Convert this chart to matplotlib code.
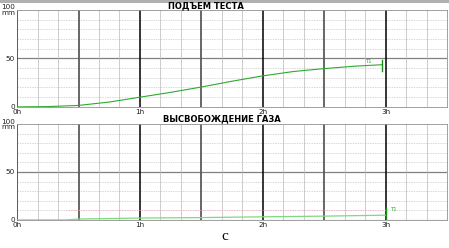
import matplotlib
matplotlib.use("Agg")
import matplotlib.pyplot as plt
import numpy as np

# data
hours = [0.0, 0.25, 0.5, 0.75, 1.0, 1.25, 1.5, 1.75, 2.0, 2.25, 2.5, 2.75, 2.97]
rise = [0.0, 0.3, 1.5, 5.0, 10.0, 15.0, 20.5, 26.5, 32.0, 36.5, 39.5, 42.0, 43.5]
gas_hours = [0.0, 0.4, 0.5, 1.0, 1.5, 2.0, 2.5, 3.0]
gas = [0.0, 0.0, 1.0, 2.0, 2.5, 3.3, 4.0, 5.0]
titles = ["ПОДЪЕМ ТЕСТА", "ВЫСВОБОЖДЕНИЕ ГАЗА"]
xtick_labels = ["0h", "1h", "2h", "3h"]
ytick_labels = ["0", "50", "100\nmm"]
marker_label = "T1"

fig = plt.figure(figsize=(4.49, 2.48), dpi=100)
fig.patch.set_facecolor("white")
fig.add_artist(plt.Rectangle((0, 0.988), 1, 0.012, transform=fig.transFigure,
                             color="#b0b0b0", lw=0))

ax1 = fig.add_axes([0.038, 0.569, 0.958, 0.391])
ax2 = fig.add_axes([0.038, 0.113, 0.958, 0.387])

def style(ax):
    ax.set_xlim(0, 3.5)
    ax.set_ylim(0, 100)
    # horizontal grid
    for v in range(10, 100, 10):
        if v == 50:
            ax.axhline(v, color="#808080", lw=0.9, zorder=1)
        else:
            ax.axhline(v, color="#c8c8c8", lw=0.5, ls=(0, (2, 1.5)), zorder=1)
    # vertical grid
    for i in range(1, 21):
        t = i / 6
        if i % 6 == 0:
            ax.axvline(t, color="black", lw=1.1, zorder=1)
        elif i % 3 == 0:
            ax.axvline(t, color="#5a5a5a", lw=1.3, zorder=1)
        else:
            ax.axvline(t, color="#b8b8b8", lw=0.5, zorder=1)
    for s in ax.spines.values():
        s.set_color("#909090")
        s.set_linewidth(0.6)
    ax.spines["left"].set_color("#404040")
    ax.set_xticks([0, 1, 2, 3])
    ax.set_xticklabels(xtick_labels)
    ax.set_yticks([0, 50, 100])
    ax.set_yticklabels(ytick_labels, linespacing=0.9)
    ax.tick_params(length=0, labelsize=5.2, pad=1.5, colors="#202020")

style(ax1)
style(ax2)

fig.text(0.459, 0.976, titles[0], fontsize=6, fontweight="bold", ha="center", va="center")
fig.text(0.494, 0.52, titles[1], fontsize=6, fontweight="bold", ha="center", va="center")

# top curve
ax1.plot(hours, rise, color="#2eaa2e", lw=0.8, zorder=3)
ax1.plot([hours[-1], hours[-1]], [rise[-1] - 7, rise[-1] + 5], color="#1c8c1c", lw=1.0, zorder=3)
ax1.text(hours[-1] - 0.08, rise[-1] + 1, marker_label, fontsize=3.8, color="#2eaa2e", ha="right", va="bottom")

# bottom curves
ax2.axhline(0.4, color="#33bb33", lw=0.8, zorder=3)
ax2.plot([0.4, 3.0], [10, 10], color="#f0b0c0", lw=0.5, ls=(0, (2, 1.5)), zorder=2)
ax2.plot(gas_hours, gas, color="#80d880", lw=0.9, zorder=3)
ax2.plot([3.0, 3.0], [0, 12], color="#1c8c1c", lw=1.0, zorder=3)
ax2.text(3.04, 8, marker_label, fontsize=3.8, color="#2eaa2e", ha="left", va="bottom")

fig.text(0.5, 0.045, "c", fontsize=11, ha="center", va="center", family="Liberation Serif")

fig.savefig("out.png", dpi=100)
